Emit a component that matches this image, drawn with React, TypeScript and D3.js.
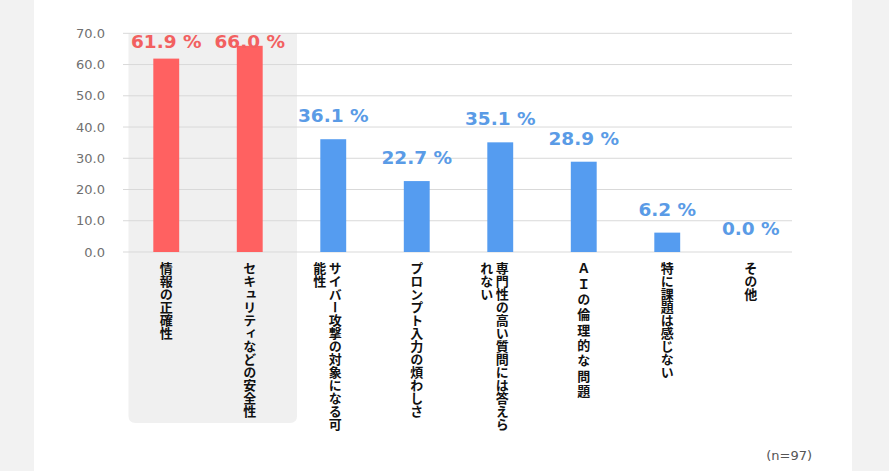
import React from "react";
import * as d3 from "d3";

const categories: string[] = [
  "情報の正確性",
  "セキュリティなどの安全性",
  "サイバー攻撃の対象になる可能性",
  "プロンプト入力の煩わしさ",
  "専門性の高い質問には答えられない",
  "ＡＩの倫理的な問題",
  "特に課題は感じない",
  "その他",
];
const values: number[] = [61.9, 66.0, 36.1, 22.7, 35.1, 28.9, 6.2, 0.0];
const highlighted: boolean[] = [true, true, false, false, false, false, false, false];
const yTicks: number[] = [0, 10, 20, 30, 40, 50, 60, 70];
const sampleNote = "(n=97)";

const W = 889;
const H = 471;
const RED_BAR = "#ff6161";
const BLUE_BAR = "#559cf0";
const RED_TXT = "#f26060";
const BLUE_TXT = "#5a9be6";
const JP = "'Noto Sans CJK JP', 'Noto Sans', sans-serif";
const LAT = "'DejaVu Sans', Verdana, sans-serif";

function splitLabel(s: string, max: number): string[] {
  const chars = Array.from(s);
  const out: string[] = [];
  for (let i = 0; i < chars.length; i += max) out.push(chars.slice(i, i + max).join(""));
  return out;
}

export default function App() {
  const x = d3
    .scaleBand<string>()
    .domain(categories)
    .range([124.5, 792.5])
    .paddingInner(0.69)
    .paddingOuter(0.345);
  const y = d3.scaleLinear().domain([0, 70]).range([252, 33.3]);

  const hiIdx = highlighted.map((h, i) => (h ? i : -1)).filter((i) => i >= 0);
  const hiLeft = (x(categories[hiIdx[0]]) as number) + x.bandwidth() / 2 - x.step() / 2 + 4;
  const hiRight =
    (x(categories[hiIdx[hiIdx.length - 1]]) as number) + x.bandwidth() / 2 + x.step() / 2 + 5.5;
  const hiBottom = 423;
  const r = 7;

  return (
    <svg
      width={W}
      height={H}
      style={{ position: "absolute", left: 0, top: 0, display: "block" }}
    >
      <rect x={0} y={0} width={W} height={H} fill="#f2f2f2" />
      <rect x={34} y={0} width={818} height={H} fill="#ffffff" />

      {/* highlight panel */}
      <path
        d={`M${hiLeft},${y(70)} H${hiRight} V${hiBottom - r} Q${hiRight},${hiBottom} ${hiRight - r},${hiBottom} H${hiLeft + r} Q${hiLeft},${hiBottom} ${hiLeft},${hiBottom - r} Z`}
        fill="#f0f0f0"
      />

      {/* gridlines */}
      {yTicks.map((t) => (
        <g key={t}>
          <line x1={123} x2={792} y1={y(t)} y2={y(t)} stroke="#d9d9d9" strokeWidth={1} />
          <text
            x={105}
            y={y(t)}
            dy="0.36em"
            textAnchor="end"
            fontFamily={LAT}
            fontSize={13}
            fill="#707070"
          >
            {t.toFixed(1)}
          </text>
        </g>
      ))}

      {/* bars */}
      {categories.map((c, i) => {
        const bx = x(c) as number;
        const top = y(values[i]);
        return (
          <rect
            key={c}
            x={bx}
            y={top}
            width={x.bandwidth()}
            height={y(0) - top}
            fill={highlighted[i] ? RED_BAR : BLUE_BAR}
          />
        );
      })}

      {/* value labels */}
      {categories.map((c, i) => {
        const cx = (x(c) as number) + x.bandwidth() / 2;
        const by = Math.max(y(values[i]) - 17, 48);
        return (
          <text
            key={c}
            x={cx}
            y={by}
            textAnchor="middle"
            fontFamily={LAT}
            fontWeight="bold"
            fontSize={18.5}
            fill={highlighted[i] ? RED_TXT : BLUE_TXT}
          >
            {values[i].toFixed(1) + " %"}
          </text>
        );
      })}

      {/* category labels (vertical) */}
      {categories.map((c, i) => {
        const cx = (x(c) as number) + x.bandwidth() / 2;
        const lines = splitLabel(c, 13);
        const ls = /^[Ａ-Ｚ]/.test(c) ? 2.3 : 0;
        return (
          <g key={c}>
            {lines.map((ln, j) => (
              <text
                key={j}
                x={lines.length > 1 ? cx + 2 - j * 15.5 : cx}
                y={262}
                style={{ writingMode: "vertical-rl", letterSpacing: ls ? `${ls}px` : undefined }}
                fontFamily={JP}
                fontWeight="bold"
                fontSize={13}
                fill="#111"
              >
                {ln}
              </text>
            ))}
          </g>
        );
      })}

      <text x={812} y={460} textAnchor="end" fontFamily={LAT} fontSize={13} fill="#555">
        {sampleNote}
      </text>
    </svg>
  );
}
